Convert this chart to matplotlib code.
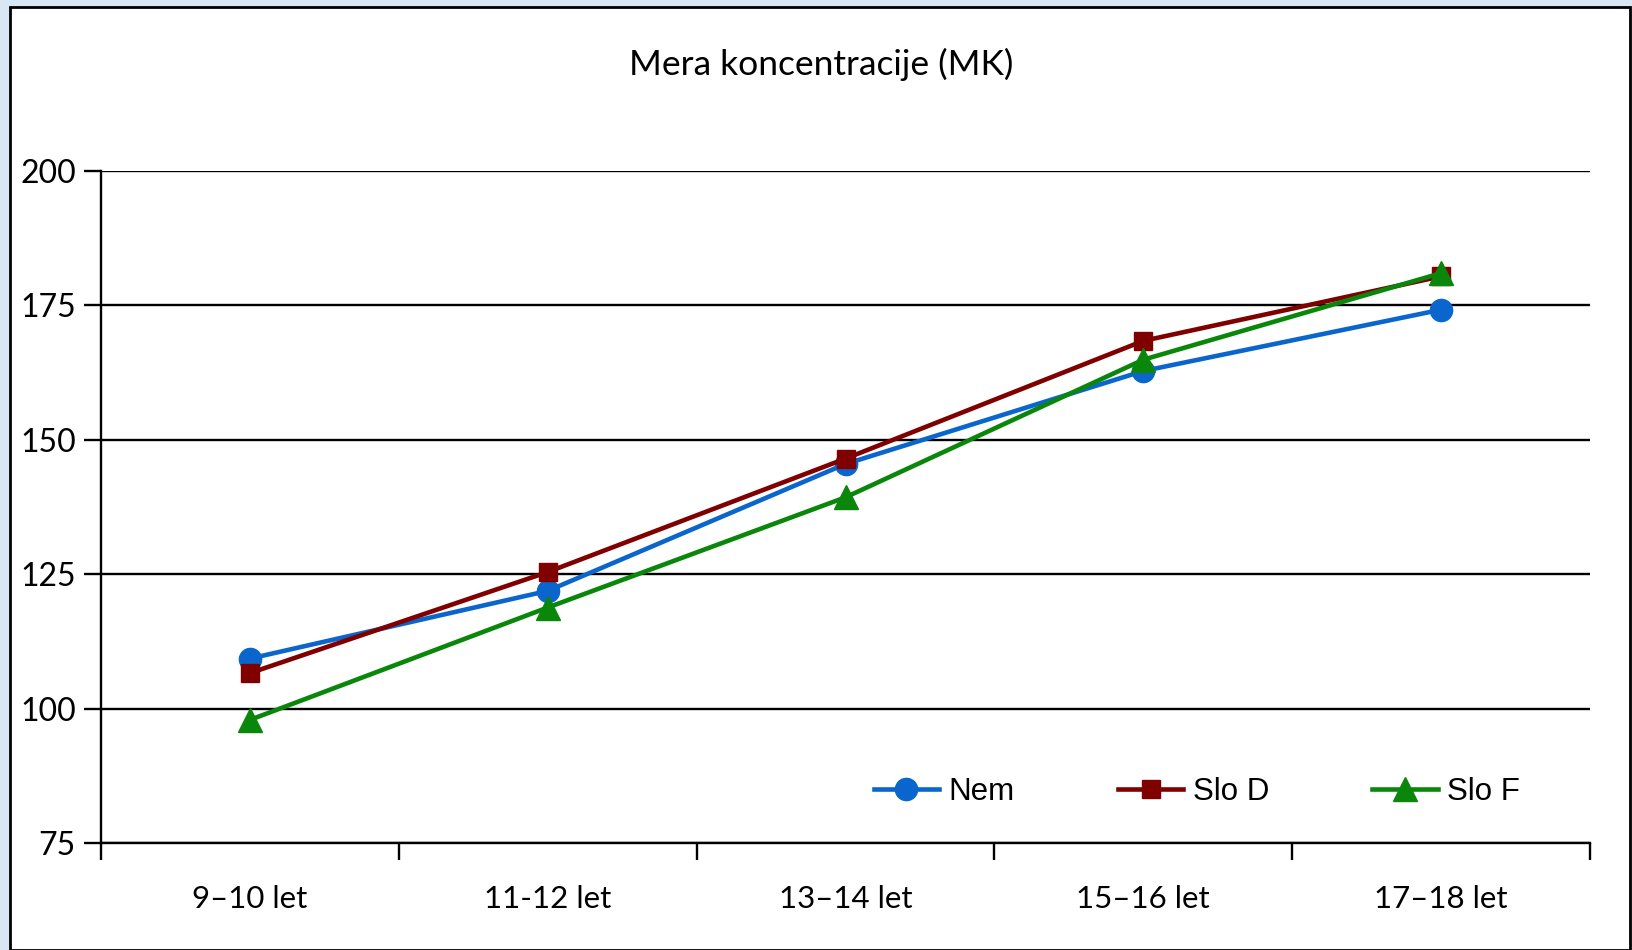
import matplotlib.pyplot as plt
import matplotlib.patches as patches

# data
categories = ['9–10 let', '11-12 let', '13–14 let', '15–16 let', '17–18 let']
nem = [109.3, 121.9, 145.5, 162.8, 174.2]
slo_d = [106.6, 125.4, 146.5, 168.4, 180.4]
slo_f = [97.9, 118.8, 139.3, 164.9, 181.0]
yticks = [75, 100, 125, 150, 175, 200]

fig = plt.figure(figsize=(16.32, 9.5), dpi=100)
fig.patch.set_facecolor('#d9e6f4')

# white chart box with black border
box = patches.Rectangle((10 / 1632, 0), 1620 / 1632, 1 - 7 / 950,
                        transform=fig.transFigure, facecolor='white',
                        edgecolor='black', linewidth=2, zorder=-10)
fig.patches.append(box)

ax = fig.add_axes([101 / 1632, 1 - 843 / 950, 1489 / 1632, 672 / 950])
ax.set_facecolor('none')

x = list(range(len(categories)))
ax.plot(x, nem, color='#0a66cc', lw=3.3, marker='o', ms=16, label='Nem', zorder=3)
ax.plot(x, slo_d, color='#800000', lw=3.3, marker='s', ms=13, label='Slo D', zorder=3)
ax.plot(x, slo_f, color='#0a870a', lw=3.3, marker='^', ms=17, label='Slo F', zorder=4)

ax.set_xlim(-0.5, len(categories) - 0.5)
ax.set_ylim(75, 200)
ax.set_yticks(yticks)
ax.yaxis.grid(True, color='black', lw=1.7)
ax.set_axisbelow(True)

# category labels centred, ticks on boundaries
ax.set_xticks([i - 0.5 for i in range(len(categories) + 1)])
ax.set_xticklabels([])
ax.set_xticks(x, minor=True)
ax.set_xticklabels(categories, minor=True, fontsize=22.5, family='Lato')
ax.tick_params(axis='x', which='minor', length=0, pad=30)
ax.tick_params(axis='x', which='major', length=12, width=1.7, direction='out')
ax.tick_params(axis='y', length=12, width=1.7, labelsize=23, pad=6)
for lab in ax.get_yticklabels():
    lab.set_family('Lato')

for s in ['top', 'right']:
    ax.spines[s].set_visible(False)
for s in ['left', 'bottom']:
    ax.spines[s].set_linewidth(1.7)

fig.text(821 / 1632, 1 - 64 / 950, 'Mera koncentracije (MK)', ha='center',
         va='center', fontsize=25.5, family='Lato')

ax.legend(loc='center', bbox_to_anchor=(0.736, 0.076), ncol=3, frameon=False,
          prop={'family': 'Liberation Sans', 'size': 22.5}, handlelength=2.1,
          columnspacing=3.3, handletextpad=0.3)

fig.savefig('out.png', dpi=100, facecolor=fig.get_facecolor())
